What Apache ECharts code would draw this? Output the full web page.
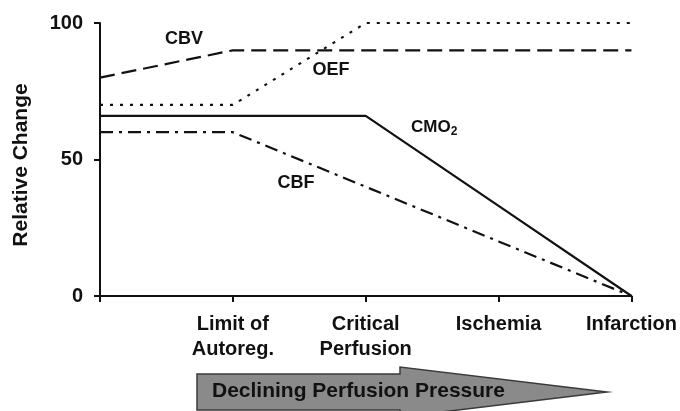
<!DOCTYPE html>
<html>
<head>
<meta charset="utf-8">
<title>Relative Change vs Declining Perfusion Pressure</title>
<script src="https://cdn.jsdelivr.net/npm/echarts@6/dist/echarts.min.js"></script>
<style>
  html, body { margin: 0; padding: 0; background: #fff; }
  #chart { width: 680px; height: 411px; }
</style>
</head>
<body>
<div id="chart"></div>
<script>
// Stages of declining perfusion pressure (first position is the unlabelled baseline)
const stages = ['', 'Limit of\nAutoreg.', 'Critical\nPerfusion', 'Ischemia', 'Infarction'];

// Relative change of each parameter at each stage
const cbv  = [80, 90, 90, 90, 90];
const oef  = [70, 70, 100, 100, 100];
const cmo2 = [66, 66, 66, 33, 0];
const cbf  = [60, 60, 40, 20, 0];

// Y axis ticks
const yTicks = { min: 0, max: 100, interval: 50 };

const FONT = '"Liberation Sans", Arial, Helvetica, sans-serif';
const INK = '#111';

const chart = echarts.init(document.getElementById('chart'), null, { renderer: 'canvas' });

function lineSeries(name, data, dash) {
  return {
    name: name,
    type: 'line',
    data: data,
    showSymbol: false,
    symbol: 'none',
    silent: true,
    clip: false,
    lineStyle: { color: INK, width: 2.2, type: dash, cap: 'butt' },
    z: 3
  };
}

chart.setOption({
  animation: false,
  backgroundColor: '#fff',
  grid: { left: 100, right: 47, top: 23, bottom: 115, containLabel: false },
  xAxis: {
    type: 'category',
    data: stages,
    boundaryGap: false,
    axisLine: { lineStyle: { color: INK, width: 2 } },
    axisTick: { show: true, length: 6, inside: false, alignWithLabel: true, lineStyle: { color: INK, width: 2 } },
    axisLabel: {
      margin: 16,
      fontFamily: FONT, fontSize: 20, fontWeight: 'bold', color: INK,
      lineHeight: 25, interval: 0
    },
    splitLine: { show: false }
  },
  yAxis: {
    type: 'value',
    min: yTicks.min, max: yTicks.max, interval: yTicks.interval,
    axisLine: { show: true, lineStyle: { color: INK, width: 2 } },
    axisTick: { show: true, length: 6, inside: false, lineStyle: { color: INK, width: 2 } },
    axisLabel: { margin: 17, fontFamily: FONT, fontSize: 20, fontWeight: 'bold', color: INK },
    splitLine: { show: false }
  },
  series: [
    lineSeries('CBV', cbv, [15, 7]),
    lineSeries('OEF', oef, [3, 7]),
    lineSeries('CMO2', cmo2, 'solid'),
    lineSeries('CBF', cbf, [13, 6, 3, 6])
  ],
  graphic: [
    // axis title
    {
      type: 'text', x: 21, y: 165, rotation: Math.PI / 2,
      style: {
        text: 'Relative Change', fontFamily: FONT, fontSize: 21, fontWeight: 'bold',
        fill: INK, align: 'center', verticalAlign: 'middle'
      }
    },
    // curve labels
    { type: 'text', x: 184, y: 39, style: { text: 'CBV', fontFamily: FONT, fontSize: 18, fontWeight: 'bold', fill: INK, align: 'center', verticalAlign: 'middle' } },
    { type: 'text', x: 331, y: 70, style: { text: 'OEF', fontFamily: FONT, fontSize: 18, fontWeight: 'bold', fill: INK, align: 'center', verticalAlign: 'middle' } },
    {
      type: 'text', x: 411, y: 127,
      style: {
        text: 'CMO{sub|2}', fontFamily: FONT, fontSize: 17, fontWeight: 'bold', fill: INK, align: 'left', verticalAlign: 'middle',
        rich: { sub: { fontFamily: FONT, fontSize: 12, fontWeight: 'bold', fill: INK, padding: [10, 0, 0, 0] } }
      }
    },
    { type: 'text', x: 296, y: 183, style: { text: 'CBF', fontFamily: FONT, fontSize: 18, fontWeight: 'bold', fill: INK, align: 'center', verticalAlign: 'middle' } },
    // direction arrow
    {
      type: 'polygon',
      shape: { points: [[197, 374], [400, 374], [400, 367], [607, 392], [400, 417], [400, 410], [197, 410]] },
      style: { fill: '#8a8a8a', stroke: '#3a3a3a', lineWidth: 1.5 },
      z: 1
    },
    {
      type: 'text', x: 212, y: 391,
      style: {
        text: 'Declining Perfusion Pressure', fontFamily: FONT, fontSize: 21, fontWeight: 'bold',
        fill: INK, align: 'left', verticalAlign: 'middle'
      },
      z: 2
    }
  ]
});
</script>
</body>
</html>
